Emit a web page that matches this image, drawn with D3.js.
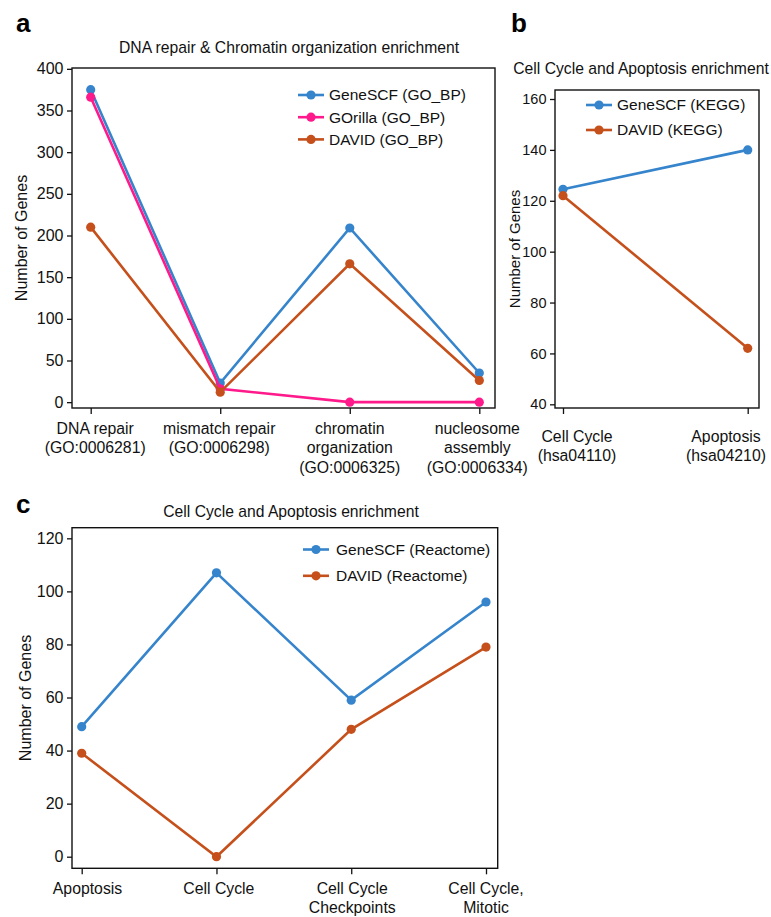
<!DOCTYPE html>
<html>
<head>
<meta charset="utf-8">
<script src="https://cdn.jsdelivr.net/npm/d3@7"></script>
<style>
  body { margin: 0; background: #fff; }
  svg { font-family: "Liberation Sans", Arial, Helvetica, sans-serif; }
</style>
</head>
<body>
<svg id="chart" width="771" height="917"></svg>
<script>
// ---- data ----
// panel a: GO biological process
var goCategories = [
  ["DNA repair", "(GO:0006281)"],
  ["mismatch repair", "(GO:0006298)"],
  ["chromatin", "organization", "(GO:0006325)"],
  ["nucleosome", "assembly", "(GO:0006334)"]
];
var goGeneSCF = [375, 23, 209, 35];
var goGOrilla = [366, 16, 0, 0];
var goDAVID = [210, 12, 166, 26];
var goTicks = [0, 50, 100, 150, 200, 250, 300, 350, 400];

// panel b: KEGG
var keggCategories = [["Cell Cycle", "(hsa04110)"], ["Apoptosis", "(hsa04210)"]];
var keggGeneSCF = [124.5, 140];
var keggDAVID = [122, 62];
var keggTicks = [40, 60, 80, 100, 120, 140, 160];

// panel c: Reactome
var reactCategories = [["Apoptosis"], ["Cell Cycle"], ["Cell Cycle", "Checkpoints"], ["Cell Cycle,", "Mitotic"]];
var reactGeneSCF = [49, 107, 59, 96];
var reactDAVID = [39, 0, 48, 79];
var reactTicks = [0, 20, 40, 60, 80, 100, 120];

var blue = "#3584cc", pink = "#ff1a8c", orange = "#c5501b";

var svg = d3.select("#chart");

function drawPanel(p) {
  var g = svg.append("g");

  var x = d3.scalePoint()
    .domain(d3.range(p.categories.length))
    .range(p.xRange);
  var y = d3.scaleLinear()
    .domain(p.yDomain)
    .range([p.box.bottom, p.box.top]);

  // frame
  g.append("rect")
    .attr("x", p.box.left).attr("y", p.box.top)
    .attr("width", p.box.right - p.box.left)
    .attr("height", p.box.bottom - p.box.top)
    .attr("fill", "none").attr("stroke", "#111").attr("stroke-width", 1.4);

  // y axis
  var yAxis = g.append("g")
    .attr("transform", "translate(" + p.box.left + ",0)")
    .call(d3.axisLeft(y).tickValues(p.ticks).tickSize(5).tickPadding(3.5));
  yAxis.select(".domain").remove();
  yAxis.selectAll("line").attr("stroke", "#111").attr("stroke-width", 1.3);
  yAxis.selectAll("text").attr("font-size", p.tickFont).attr("fill", "#111")
    .attr("font-family", "Liberation Sans, Arial, sans-serif");

  // x axis
  var xAxis = g.append("g")
    .attr("transform", "translate(0," + p.box.bottom + ")")
    .call(d3.axisBottom(x).tickSize(6).tickFormat(""));
  xAxis.select(".domain").remove();
  xAxis.selectAll("line").attr("stroke", "#111").attr("stroke-width", 1.3);

  // category labels, nudged the way the original figure placed them
  p.categories.forEach(function(lines, i) {
    var cx = x(i) + p.labelShift[i];
    var t = g.append("text")
      .attr("x", cx).attr("y", p.box.bottom + p.labelOffset)
      .attr("text-anchor", "middle")
      .attr("font-size", 15.8).attr("fill", "#111");
    lines.forEach(function(s, j) {
      t.append("tspan").attr("x", cx).attr("dy", j === 0 ? 0 : 19.6).text(s);
    });
  });

  // y label
  g.append("text")
    .attr("transform", "translate(" + p.yLabelX + "," + ((p.box.top + p.box.bottom) / 2) + ") rotate(-90)")
    .attr("text-anchor", "middle")
    .attr("font-size", p.yLabelFont).attr("fill", "#111")
    .text("Number of Genes");

  // title
  g.append("text")
    .attr("x", p.titleX).attr("y", p.titleY)
    .attr("text-anchor", "middle")
    .attr("font-size", 15.7).attr("fill", "#111")
    .text(p.title);

  // panel letter
  g.append("text")
    .attr("x", p.letterX).attr("y", p.letterY)
    .attr("font-size", 26).attr("font-weight", "bold").attr("fill", "#000")
    .text(p.letter);

  var line = d3.line()
    .x(function(d, i) { return x(i); })
    .y(function(d) { return y(d); });

  p.series.forEach(function(s) {
    g.append("path")
      .datum(s.values)
      .attr("d", line)
      .attr("fill", "none")
      .attr("stroke", s.color)
      .attr("stroke-width", 2.6);
    g.selectAll(null)
      .data(s.values).enter().append("circle")
      .attr("cx", function(d, i) { return x(i); })
      .attr("cy", function(d) { return y(d); })
      .attr("r", 4.6)
      .attr("fill", s.color);
  });

  // legend
  var lg = g.append("g").attr("transform", "translate(" + p.legend.x + "," + p.legend.y + ")");
  p.series.forEach(function(s, i) {
    var row = lg.append("g").attr("transform", "translate(0," + (i * p.legend.step) + ")");
    row.append("line").attr("x1", 0).attr("x2", 26).attr("y1", 0).attr("y2", 0)
      .attr("stroke", s.color).attr("stroke-width", 2.6);
    row.append("circle").attr("cx", 13).attr("cy", 0).attr("r", 4.6).attr("fill", s.color);
    row.append("text").attr("x", p.legend.textX).attr("y", 0).attr("dy", "0.35em")
      .attr("font-size", 15.5).attr("fill", "#111").text(s.name);
  });
}

drawPanel({
  letter: "a", letterX: 16, letterY: 32,
  title: "DNA repair & Chromatin organization enrichment", titleX: 289, titleY: 53,
  box: { left: 72, right: 495, top: 68, bottom: 408 },
  xRange: [90.7, 479.3],
  yDomain: [-7, 401],
  ticks: goTicks,
  tickFont: 16,
  categories: goCategories,
  labelShift: [4.5, -1, 0, -2],
  labelOffset: 25.5,
  yLabelX: 27,
  yLabelFont: 16,
  series: [
    { name: "GeneSCF (GO_BP)", values: goGeneSCF, color: blue },
    { name: "GOrilla (GO_BP)", values: goGOrilla, color: pink },
    { name: "DAVID (GO_BP)", values: goDAVID, color: orange }
  ],
  legend: { x: 298, y: 95, step: 22.2, textX: 31 }
});

drawPanel({
  letter: "b", letterX: 511, letterY: 32,
  title: "Cell Cycle and Apoptosis enrichment", titleX: 641, titleY: 74,
  box: { left: 555, right: 759, top: 90, bottom: 408 },
  xRange: [563, 747.7],
  yDomain: [38.55, 163.54],
  ticks: keggTicks,
  tickFont: 14.5,
  categories: keggCategories,
  labelShift: [14, -21.7],
  labelOffset: 33.5,
  yLabelX: 520,
  yLabelFont: 15,
  series: [
    { name: "GeneSCF (KEGG)", values: keggGeneSCF, color: blue },
    { name: "DAVID (KEGG)", values: keggDAVID, color: orange }
  ],
  legend: { x: 586, y: 105, step: 25, textX: 31 }
});

drawPanel({
  letter: "c", letterX: 16, letterY: 513,
  title: "Cell Cycle and Apoptosis enrichment", titleX: 291, titleY: 517,
  box: { left: 72, right: 497.7, top: 527.7, bottom: 868.3 },
  xRange: [81.7, 486],
  yDomain: [-4.37, 124.0],
  ticks: reactTicks,
  tickFont: 16,
  categories: reactCategories,
  labelShift: [5.8, 2.4, 1, 0],
  labelOffset: 25.3,
  yLabelX: 31,
  yLabelFont: 16,
  series: [
    { name: "GeneSCF (Reactome)", values: reactGeneSCF, color: blue },
    { name: "DAVID (Reactome)", values: reactDAVID, color: orange }
  ],
  legend: { x: 303, y: 549.5, step: 26.3, textX: 33 }
});
</script>
</body>
</html>
